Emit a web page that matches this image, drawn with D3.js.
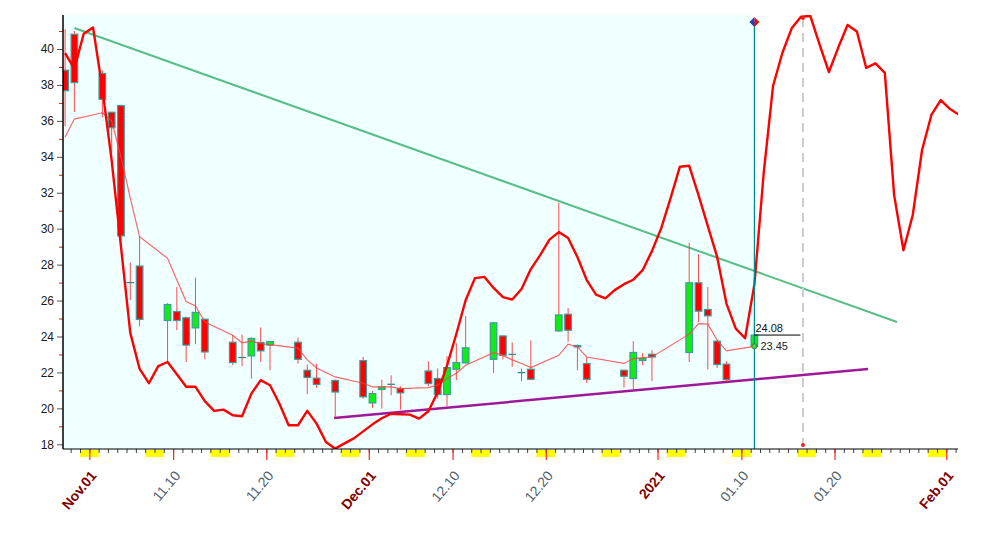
<!DOCTYPE html>
<html><head><meta charset="utf-8">
<script src="https://cdn.jsdelivr.net/npm/d3@7"></script>
<style>
body{margin:0;background:#fff;}
svg{display:block;font-family:"Liberation Sans",Arial,sans-serif;}
</style>
</head><body>
<svg id="c" width="1006" height="537"></svg>
<script>
// ---------------- data ----------------
const candleDates = ["2020-10-29","2020-10-30","2020-11-02","2020-11-03","2020-11-04","2020-11-05","2020-11-06",
"2020-11-09","2020-11-10","2020-11-11","2020-11-12","2020-11-13","2020-11-16","2020-11-17","2020-11-18","2020-11-19","2020-11-20",
"2020-11-23","2020-11-24","2020-11-25","2020-11-27","2020-11-30","2020-12-01","2020-12-02","2020-12-03","2020-12-04",
"2020-12-07","2020-12-08","2020-12-09","2020-12-10","2020-12-11","2020-12-14","2020-12-15","2020-12-16","2020-12-17","2020-12-18",
"2020-12-21","2020-12-22","2020-12-23","2020-12-24","2020-12-28","2020-12-29","2020-12-30","2020-12-31",
"2021-01-04","2021-01-05","2021-01-06","2021-01-07","2021-01-08","2021-01-11"];
const opens  = [38.82,40.82,38.63,36.48,36.85,27.0,27.92, 24.89,25.39,25.04,24.48,24.96, 23.68,22.83,22.92,23.67,23.52,
 23.68,22.12,21.68,21.55, 22.66,20.30,21.05,21.34,21.10, 22.08,21.66,20.77,22.18,22.53, 22.73,24.03,23.0,21.99,22.18,
 24.31,25.24,23.50,22.49, 22.12,21.66,22.66,23.01, 23.11,26.99,25.50,23.74,22.46,23.45];
const highs  = [41.1,41.0,38.8,36.5,36.9,28.12,29.55, 25.85,26.76,25.1,27.27,25.0, 24.07,24.11,23.95,24.5,23.75,
 23.94,22.44,22.49,21.6, 22.86,20.97,21.6,21.84,21.23, 22.62,22.22,22.90,23.61,25.13, 24.8,24.05,23.67,22.22,23.79,
 31.44,25.59,23.55,22.86, 22.15,23.74,23.07,23.24, 29.21,28.58,26.76,23.8,22.62,24.76];
const lows   = [35.7,36.5,36.2,34.2,29.3,26.02,24.57, 22.58,24.35,22.58,23.57,22.73, 22.4,22.35,21.66,22.58,22.12,
 22.49,20.79,21.14,19.47, 20.54,20.02,19.99,20.73,19.93, 21.23,20.54,20.12,21.57,22.5, 21.97,22.72,22.31,21.51,21.57,
 24.26,23.7,22.12,21.41, 21.16,21.01,22.4,21.52, 22.58,24.81,22.16,22.25,21.47,23.40];
const closes = [37.68,38.13,37.2,35.62,29.6,27.0,24.95, 25.78,24.89,23.52,25.34,23.14, 22.55,22.83,23.89,23.2,23.72,
 22.73,21.72,21.33,20.91, 20.64,20.82,21.19,21.34,20.86, 21.38,20.77,22.27,22.55,23.37, 24.76,22.96,23.0,21.99,21.62,
 25.2,24.35,23.42,21.62, 21.79,23.11,22.77,22.86, 26.99,25.41,25.15,22.44,21.6,24.08];
const maValues = [35.1,36.1,36.45,36.0,34.0,31.7,29.55, 28.35,27.15,25.95,25.7,24.8, 24.07,23.65,23.74,23.6,23.55,
 23.35,22.7,22.25,21.75, 21.4,21.2,21.2,21.2,21.1, 21.15,21.3,21.65,21.95,22.4, 23.1,22.95,22.7,22.5,22.27,
 22.95,23.57,23.42,22.86, 22.5,22.77,22.82,22.86, 24.13,24.72,24.69,23.79,23.2,23.45];

// daily projection curve, one value per calendar day starting at forecastStart
const forecastStart = "2020-10-29";
const forecastValues = [39.77,38.9,40.85,41.2,37.8,33.8,29.0,24.2,22.2,21.4,22.35,22.58,21.9,21.2,21.2,20.4,19.86,19.93,
 19.62,19.56,20.82,21.57,21.29,20.27,19.06,19.06,19.86,19.15,18.13,17.76,18.05,18.33,18.72,19.11,19.45,19.7,19.67,19.65,
 19.43,19.84,20.9,22.38,24.14,26.02,27.25,27.32,26.7,26.19,26.06,26.64,27.75,28.53,29.39,29.81,29.48,28.42,27.14,26.33,
 26.12,26.58,26.91,27.16,27.69,28.75,30.03,31.7,33.45,33.5,31.87,30.14,28.43,25.83,24.44,23.9,26.9,33.1,37.94,39.78,
 41.15,41.8,41.84,40.25,38.72,40.08,41.34,40.97,38.95,39.2,38.67,31.87,28.8,30.76,34.38,36.33,37.16,36.66,36.33];

const downTrend = [["2020-10-30T09:36Z",41.17],["2021-01-26T17:00Z",24.81]];
const upTrend   = [["2020-11-27T06:30Z",19.46],["2021-01-23T14:24Z",22.19]];
const cursorDate = "2021-01-11";
const dashedDate = "2021-01-16T14:40Z";
const lastClose = 24.08, lastMa = 23.45;

const yMajor = [18,20,22,24,26,28,30,32,34,36,38,40];
const yMinor = [19,21,23,25,27,29,31,33,35,37,39,41];
const labelDates = ["2020-11-01","2020-11-10","2020-11-20","2020-12-01","2020-12-10","2020-12-20","2021-01-01","2021-01-10","2021-01-20","2021-02-01"];
const labelTexts = ["Nov.01","11.10","11.20","Dec.01","12.10","12.20","2021","01.10","01.20","Feb.01"];
const labelMajor = [true,false,false,true,false,false,true,false,false,true];

// ---------------- layout ----------------
const X0 = 63, X1 = 958, Y0 = 15, Y1 = 449;
const DAY = 864e5, SHIFT = 0.4;
const P = s => new Date(s.length === 10 ? s + "T00:00Z" : s);
const x = d3.scaleUtc().domain([P("2020-11-01"), P("2021-02-01")]).range([89.3, 946.3]);
const y = d3.scaleLinear().domain([18, 40]).range([444.3, 49]);
const cx = d => x(new Date(+d + SHIFT * DAY));

const svg = d3.select("#c");
svg.append("defs").append("clipPath").attr("id","clip")
  .append("rect").attr("x",X0).attr("y",Y0).attr("width",X1-X0).attr("height",Y1-Y0);

// cyan history background
const cursorX = cx(P(cursorDate));
svg.append("rect").attr("x",X0).attr("y",Y0).attr("width",cursorX-X0).attr("height",Y1-Y0).attr("fill","#f0ffff");

// weekends (yellow) under the x axis
const allDays = d3.utcDay.range(x.invert(X0), x.invert(X1));
const sats = allDays.filter(d => d.getUTCDay() === 6);
svg.append("g").selectAll("rect").data(sats).join("rect")
  .attr("x", d => Math.max(X0, x(d)))
  .attr("width", d => Math.min(X1, x(new Date(+d + 2*DAY))) - Math.max(X0, x(d)))
  .attr("y", Y1 + 1).attr("height", 7).attr("fill", "#ffff00");

const plot = svg.append("g").attr("clip-path","url(#clip)");

// trend lines
const tl = d3.line().x(d => x(P(d[0]))).y(d => y(d[1]));
plot.append("path").attr("d", tl(downTrend)).attr("stroke","#3cb371").attr("stroke-opacity",0.85).attr("stroke-width",2).attr("fill","none");
plot.append("path").attr("d", tl(upTrend)).attr("stroke","#a0189a").attr("stroke-width",2.5).attr("fill","none");

// candles
const candles = candleDates.map((d,i) => ({d:P(d), o:opens[i], h:highs[i], l:lows[i], c:closes[i]}));
const cg = plot.append("g");
const bw = 6.6;
cg.selectAll("line.w").data(candles).join("line").attr("class","w")
  .attr("x1", d => cx(d.d)).attr("x2", d => cx(d.d))
  .attr("y1", d => y(d.h)).attr("y2", d => y(d.l))
  .attr("stroke", "#ff2a2a").attr("stroke-opacity",0.85).attr("stroke-width", 1);
cg.selectAll("rect.b").data(candles.filter(d => d.o !== d.c)).join("rect").attr("class","b")
  .attr("x", d => cx(d.d) - bw/2).attr("width", bw)
  .attr("y", d => y(Math.max(d.o,d.c))).attr("height", d => Math.max(1, y(Math.min(d.o,d.c)) - y(Math.max(d.o,d.c))))
  .attr("fill", d => d.c > d.o ? "#10ee10" : "#ff0000")
  .attr("stroke", "#3a9c9c").attr("stroke-width", 1.2);
cg.selectAll("line.dj").data(candles.filter(d => d.o === d.c)).join("line").attr("class","dj")
  .attr("x1", d => cx(d.d) - bw/2 - 0.5).attr("x2", d => cx(d.d) + bw/2 + 0.5)
  .attr("y1", d => y(d.c)).attr("y2", d => y(d.c))
  .attr("stroke", "#2e8b8b").attr("stroke-width", 1.3);

// moving average
const ma = candleDates.map((d,i) => [P(d), maValues[i]]);
plot.append("path").attr("d", d3.line().x(d => cx(d[0])).y(d => y(d[1]))(ma))
  .attr("fill","none").attr("stroke","#ff4040").attr("stroke-opacity",0.8).attr("stroke-width",1.2);

// projection curve
const fs = P(forecastStart);
const fc = forecastValues.map((v,i) => [new Date(+fs + i*DAY), v]);
plot.append("path").attr("d", d3.line().x(d => cx(d[0])).y(d => y(d[1]))(fc))
  .attr("fill","none").attr("stroke","#ff0000").attr("stroke-width",2.4).attr("stroke-linejoin","round");

// cursor line
svg.append("line").attr("x1",cursorX).attr("x2",cursorX).attr("y1",Y0+7).attr("y2",Y1)
  .attr("stroke","#008b8b").attr("stroke-width",1.2);
svg.append("path").attr("d",`M${cursorX-5},${Y0+7}L${cursorX},${Y0+2}L${cursorX},${Y0+12}Z`).attr("fill","#1f3fd0");
svg.append("path").attr("d",`M${cursorX+5},${Y0+7}L${cursorX},${Y0+2}L${cursorX},${Y0+12}Z`).attr("fill","#e01010");

// dashed marker
const dx = x(P(dashedDate));
svg.append("line").attr("x1",dx).attr("x2",dx).attr("y1",Y0+3).attr("y2",Y1-4)
  .attr("stroke","#cccccc").attr("stroke-width",2).attr("stroke-dasharray","9,6");
svg.append("circle").attr("cx",dx).attr("cy",Y0+3).attr("r",2).attr("fill","#ee2020");
svg.append("circle").attr("cx",dx).attr("cy",Y1-4).attr("r",2).attr("fill","#ee2020");

// last values
svg.append("line").attr("x1",cursorX).attr("x2",cursorX+46).attr("y1",y(lastClose)).attr("y2",y(lastClose))
  .attr("stroke","#000").attr("stroke-width",1);
svg.append("text").attr("x",cursorX+1).attr("y",y(lastClose)-3).attr("font-size",11).attr("fill","#111").text(lastClose.toFixed(2));
svg.append("circle").attr("cx",cursorX).attr("cy",y(lastMa)).attr("r",2.6).attr("fill","#30e030").attr("stroke","#555").attr("stroke-width",0.8);
svg.append("text").attr("x",cursorX+6).attr("y",y(lastMa)+4).attr("font-size",11).attr("fill","#222").text(lastMa.toFixed(2));

// y axis
const yAxisMajor = d3.axisLeft(y).tickValues(yMajor).tickSize(6).tickPadding(3).tickFormat(d3.format("d"));
const ya = svg.append("g").attr("transform",`translate(${X0},0)`).call(yAxisMajor);
ya.select(".domain").remove();
ya.selectAll("line").attr("stroke","#555");
ya.selectAll("text").attr("font-size",12).attr("fill","#1a1a1a").attr("font-family","Liberation Sans, Arial, sans-serif");
const ym = svg.append("g").attr("transform",`translate(${X0},0)`).call(d3.axisLeft(y).tickValues(yMinor).tickSize(4).tickFormat(""));
ym.select(".domain").remove();
ym.selectAll("line").attr("stroke","#e02020");
svg.append("line").attr("x1",X0).attr("x2",X0).attr("y1",Y0).attr("y2",Y1).attr("stroke","#000").attr("stroke-width",1.5);

// x axis
const xa = svg.append("g").attr("transform",`translate(0,${Y1})`)
  .call(d3.axisBottom(x).tickValues(allDays.filter(d => x(d) >= X0 && x(d) <= X1)).tickSize(4).tickFormat(""));
xa.select(".domain").remove();
xa.selectAll("line").attr("stroke","#444");
const xl = svg.append("g").attr("transform",`translate(0,${Y1})`)
  .call(d3.axisBottom(x).tickValues(labelDates.map(P)).tickSize(11).tickFormat(""));
xl.select(".domain").remove();
xl.selectAll("line").attr("stroke","#ff2020").attr("stroke-width",1.2);
svg.append("line").attr("x1",X0).attr("x2",X1).attr("y1",Y1).attr("y2",Y1).attr("stroke","#000").attr("stroke-width",1.2);

svg.append("g").selectAll("text").data(labelDates.map((d,i) => ({d:P(d), t:labelTexts[i], m:labelMajor[i]}))).join("text")
  .attr("transform", d => `translate(${x(d.d)+8},${Y1+27}) rotate(-50)`)
  .attr("text-anchor","end").attr("font-size",14)
  .attr("font-weight", d => d.m ? "bold" : "normal")
  .attr("fill", d => d.m ? "#800000" : "#50606e")
  .text(d => d.t);
</script>
</body></html>
